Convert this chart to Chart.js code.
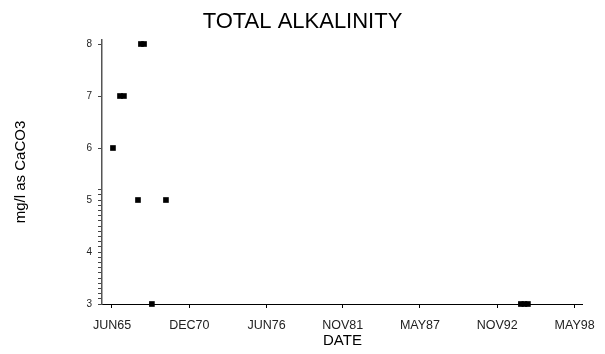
<!DOCTYPE html>
<html>
<head>
<meta charset="utf-8">
<script src="https://cdn.jsdelivr.net/npm/chart.js@4"></script>
<style>
  html, body { margin: 0; padding: 0; background: #fff; }
  #wrap { width: 605px; height: 354px; }
</style>
</head>
<body>
<div id="wrap"><canvas id="chart" width="605" height="354"></canvas></div>
<script>
// sample dates (decimal years) and total alkalinity (mg/l as CaCO3)
const dates = [1965.49, 1965.99, 1966.27, 1967.48, 1967.70, 1967.27, 1969.26, 1968.26, 1994.51, 1994.76, 1995.01];
const alkalinity = [6, 7, 7, 8, 8, 5, 5, 3, 3, 3, 3];

// axis ticks
const xTickYears = [1965.42, 1970.92, 1976.42, 1981.83, 1987.33, 1992.83, 1998.33];
const xTickLabels = ["JUN65", "DEC70", "JUN76", "NOV81", "MAY87", "NOV92", "MAY98"];
const yTicks = [3, 4, 5, 6, 7, 8];

// small minor ticks seen on the lower part of the y axis
const yMinor = [];
for (let v = 31; v <= 52; v++) {
    if (v % 10 !== 0) yMinor.push(v / 10);
}

const points = dates.map((d, i) => ({ x: d, y: alkalinity[i] }));

new Chart(document.querySelector("#chart"), {
    type: "scatter",
    data: {
        datasets: [{
            data: points,
            backgroundColor: "#000",
            borderColor: "#000",
            pointStyle: "rect",
            pointRadius: 4,
            pointHoverRadius: 4,
            borderWidth: 0,
            clip: false,
        }],
    },
    options: {
        responsive: false,
        animation: false,
        events: [],
        layout: { padding: 0 },
        plugins: {
            legend: { display: false },
            tooltip: { enabled: false },
            title: {
                display: true,
                text: "TOTAL ALKALINITY",
                color: "#000",
                font: { family: "Liberation Sans", size: 22, weight: "normal" },
                padding: { top: 8.3, bottom: 5.3 },
            },
        },
        scales: {
            x: {
                type: "linear",
                min: 1964.71,
                max: 1998.92,
                afterBuildTicks: axis => {
                    axis.ticks = xTickYears.map(v => ({ value: v }));
                },
                afterFit: axis => { axis.height = 50; },
                ticks: {
                    autoSkip: false,
                    maxRotation: 0,
                    padding: 10,
                    color: "#222",
                    font: { family: "Liberation Sans", size: 12.5 },
                    callback: (v, i) => xTickLabels[i],
                },
                grid: { drawOnChartArea: false, drawTicks: true, tickLength: 4, color: "#000" },
                border: { display: true, color: "#000", width: 1 },
                title: {
                    display: true,
                    text: "DATE",
                    color: "#000",
                    font: { family: "Liberation Sans", size: 15 },
                    padding: { top: 0, bottom: 4 },
                },
            },
            y: {
                type: "linear",
                min: 3,
                max: 8.077,
                afterBuildTicks: axis => {
                    axis.ticks = yTicks.concat(yMinor).map(v => ({ value: v }));
                },
                afterFit: axis => { axis.width = 102; },
                ticks: {
                    autoSkip: false,
                    padding: 6,
                    color: "#222",
                    font: { family: "Liberation Sans", size: 10 },
                    callback: v => (yTicks.includes(v) ? String(v) : ""),
                },
                grid: { drawOnChartArea: false, drawTicks: true, tickLength: 4, color: "#444" },
                border: { display: true, color: "#555", width: 1.5 },
                title: {
                    display: true,
                    text: "mg/l as CaCO3",
                    color: "#000",
                    font: { family: "Liberation Sans", size: 15 },
                    padding: { top: 12, bottom: 0 },
                },
            },
            // empty strip on the right so the plot stops short of the edge
            yRight: {
                position: "right",
                display: true,
                ticks: { display: false },
                grid: { display: false },
                border: { display: false },
                afterFit: axis => { axis.width = 22; },
            },
        },
    },
});
</script>
</body>
</html>
